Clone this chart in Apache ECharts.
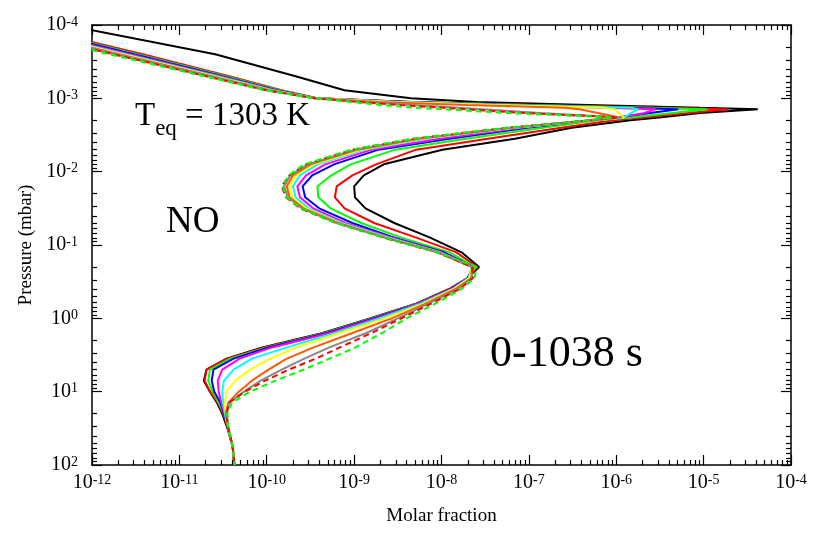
<!DOCTYPE html>
<html>
<head>
<meta charset="utf-8">
<script src="https://cdn.jsdelivr.net/npm/echarts@6.0.0/dist/echarts.min.js"></script>
<style>
    html, body { margin: 0; padding: 0; background: #fff; }
    #main { width: 830px; height: 534px; }
</style>
</head>
<body>
<div id="main"></div>
<script>
    var FONT = "'Liberation Serif', 'Times New Roman', Times, serif";

    // pressure levels, log10(mbar)
    var LOG_P = [-4.0, -3.6, -3.3, -3.11, -3.0, -2.95, -2.91, -2.87, -2.85, -2.8,
        -2.74, -2.7, -2.6, -2.45, -2.3, -2.1, -1.95, -1.8, -1.65, -1.5,
        -1.3, -1.1, -0.9, -0.7, -0.55, -0.4, -0.2, 0.0, 0.2, 0.4,
        0.55, 0.7, 0.85, 1.0, 1.15, 1.3, 1.5, 1.75, 2.0];

    // NO molar fraction, log10, one array per time step
    var X_BLACK = [-12.31, -10.59, -9.67, -9.11, -8.35, -7.60, -6.32, -5.04, -4.38, -5.04,
        -5.51, -5.84, -6.51, -7.16, -7.99, -8.66, -8.89, -9.00, -8.99, -8.87,
        -8.54, -8.13, -7.77, -7.57, -7.70, -7.91, -8.29, -8.82, -9.36, -10.06,
        -10.46, -10.69, -10.72, -10.65, -10.57, -10.51, -10.45, -10.39, -10.37];
    var X_RED = [-12.79, -11.42, -10.43, -9.83, -9.42, -8.33, -6.90, -5.46, -4.72, -5.17,
        -5.69, -6.03, -6.63, -7.47, -8.29, -8.75, -9.02, -9.20, -9.22, -9.11,
        -8.77, -8.29, -7.83, -7.59, -7.70, -7.91, -8.29, -8.81, -9.34, -10.04,
        -10.45, -10.69, -10.71, -10.65, -10.56, -10.50, -10.44, -10.39, -10.37];
    var X_GREEN = [-12.85, -11.48, -10.47, -9.86, -9.43, -8.34, -7.00, -5.66, -4.96, -5.36,
        -5.82, -6.22, -6.84, -7.72, -8.53, -9.04, -9.26, -9.42, -9.41, -9.27,
        -8.92, -8.46, -7.91, -7.61, -7.70, -7.89, -8.28, -8.80, -9.33, -10.01,
        -10.42, -10.65, -10.67, -10.62, -10.55, -10.49, -10.44, -10.39, -10.37];
    var X_BLUE = [-12.90, -11.52, -10.51, -9.89, -9.43, -8.35, -7.14, -5.92, -5.29, -5.61,
        -5.99, -6.29, -7.02, -7.91, -8.72, -9.23, -9.48, -9.59, -9.56, -9.40,
        -9.02, -8.54, -7.97, -7.64, -7.70, -7.89, -8.27, -8.78, -9.31, -9.99,
        -10.38, -10.61, -10.63, -10.60, -10.53, -10.49, -10.44, -10.39, -10.37];
    var X_MAGENTA = [-12.95, -11.57, -10.54, -9.91, -9.44, -8.48, -7.32, -6.15, -5.55, -5.68,
        -5.96, -6.31, -7.10, -8.02, -8.80, -9.33, -9.55, -9.65, -9.62, -9.47,
        -9.10, -8.57, -8.00, -7.64, -7.69, -7.88, -8.26, -8.75, -9.28, -9.95,
        -10.31, -10.51, -10.56, -10.55, -10.52, -10.48, -10.44, -10.39, -10.37];
    var X_CYAN = [-12.99, -11.62, -10.57, -9.93, -9.44, -8.51, -7.23, -5.82, -5.75, -5.83,
        -5.91, -6.23, -7.16, -8.19, -8.88, -9.42, -9.62, -9.70, -9.67, -9.52,
        -9.14, -8.60, -8.02, -7.65, -7.69, -7.87, -8.24, -8.71, -9.22, -9.78,
        -10.17, -10.38, -10.49, -10.51, -10.50, -10.48, -10.44, -10.39, -10.37];
    var X_YELLOW = [-13.04, -11.65, -10.60, -9.96, -9.44, -8.54, -7.41, -6.13, -6.02, -5.97,
        -5.91, -6.24, -7.18, -8.23, -8.92, -9.46, -9.67, -9.74, -9.71, -9.55,
        -9.17, -8.63, -8.03, -7.65, -7.68, -7.86, -8.21, -8.65, -9.17, -9.66,
        -9.96, -10.19, -10.36, -10.46, -10.48, -10.47, -10.44, -10.39, -10.37];
    var X_ORANGE = [-13.08, -11.69, -10.63, -9.97, -9.45, -8.72, -7.72, -6.58, -6.42, -6.21,
        -5.96, -6.26, -7.21, -8.26, -8.96, -9.50, -9.70, -9.77, -9.74, -9.58,
        -9.18, -8.64, -8.04, -7.65, -7.66, -7.84, -8.18, -8.57, -9.02, -9.47,
        -9.77, -9.98, -10.17, -10.32, -10.44, -10.47, -10.44, -10.39, -10.37];
    var X_GRAY = [-13.13, -11.72, -10.65, -9.99, -9.45, -8.86, -8.32, -7.80, -7.53, -6.87,
        -5.93, -6.27, -7.22, -8.28, -8.99, -9.53, -9.73, -9.80, -9.76, -9.60,
        -9.20, -8.65, -8.04, -7.65, -7.65, -7.81, -8.15, -8.50, -8.86, -9.29,
        -9.57, -9.83, -10.07, -10.26, -10.43, -10.46, -10.44, -10.39, -10.37];
    var X_RED_DASH = [-13.19, -11.75, -10.69, -10.01, -9.45, -8.94, -8.49, -7.97, -7.71, -7.06,
        -5.98, -6.29, -7.24, -8.32, -9.02, -9.55, -9.74, -9.83, -9.78, -9.62,
        -9.21, -8.66, -8.05, -7.65, -7.64, -7.79, -8.12, -8.46, -8.80, -9.17,
        -9.44, -9.75, -10.02, -10.25, -10.43, -10.46, -10.44, -10.39, -10.37];
    var X_GREEN_DASH = [-13.23, -11.80, -10.71, -10.02, -9.45, -9.04, -8.70, -8.27, -7.97, -7.24,
        -6.05, -6.30, -7.25, -8.33, -9.03, -9.57, -9.75, -9.82, -9.77, -9.61,
        -9.21, -8.66, -8.05, -7.60, -7.62, -7.77, -8.07, -8.40, -8.68, -8.99,
        -9.28, -9.58, -9.90, -10.19, -10.40, -10.45, -10.44, -10.39, -10.37];

    // decade exponents of the tick labels
    var X_DECADES = [-12, -11, -10, -9, -8, -7, -6, -5, -4];
    var Y_DECADES = [-4, -3, -2, -1, 0, 1, 2];
    var MINOR_MULT = [2, 3, 4, 5, 6, 7, 8, 9];

    var curves = [
        {name: 't0', color: '#000000', dash: 'solid', x: X_BLACK},
        {name: 't1', color: '#ff0000', dash: 'solid', x: X_RED},
        {name: 't2', color: '#00ff00', dash: 'solid', x: X_GREEN},
        {name: 't3', color: '#0000ff', dash: 'solid', x: X_BLUE},
        {name: 't4', color: '#ff00ff', dash: 'solid', x: X_MAGENTA},
        {name: 't5', color: '#00ffff', dash: 'solid', x: X_CYAN},
        {name: 't6', color: '#ffff00', dash: 'solid', x: X_YELLOW},
        {name: 't7', color: '#ff5a00', dash: 'solid', x: X_ORANGE},
        {name: 't8', color: '#888888', dash: 'solid', x: X_GRAY},
        {name: 't9', color: '#ff0000', dash: [6, 4], x: X_RED_DASH},
        {name: 't10', color: '#00ff00', dash: [6, 4], x: X_GREEN_DASH}
    ];

    function pow10(e) {
        return Math.pow(10, e);
    }

    function minorValues(decades) {
        var out = [];
        for (var i = 0; i < decades.length - 1; i++) {
            MINOR_MULT.forEach(function (m) {
                out.push(m * pow10(decades[i]));
            });
        }
        return out;
    }

    function labelFmt(v) {
        var e = Math.round(Math.log10(v));
        return '{b|10}{s|' + e + '}';
    }

    var labelRich = {
        b: {fontFamily: FONT, fontSize: 20, lineHeight: 20, color: '#000', verticalAlign: 'bottom', padding: [4, 0, 0, 0]},
        s: {fontFamily: FONT, fontSize: 14, lineHeight: 14, color: '#000', verticalAlign: 'top'}
    };

    var frame = {show: true, lineStyle: {color: '#000', width: 1.5}};

    function logAxis(dim, pos, minor, withLabels) {
        var decades = dim === 'x' ? X_DECADES : Y_DECADES;
        var ax = {
            type: 'log',
            logBase: 10,
            position: pos,
            min: pow10(decades[0]),
            max: pow10(decades[decades.length - 1]),
            splitNumber: decades.length - 1,
            axisLine: minor ? {show: false} : frame,
            axisTick: {
                show: true,
                inside: true,
                length: minor ? 5 : 10,
                lineStyle: {color: '#000', width: 1.2},
                customValues: minor ? minorValues(decades) : decades.map(pow10)
            },
            axisLabel: {show: false},
            splitLine: {show: false},
            minorTick: {show: false}
        };
        if (dim === 'y') ax.inverse = true;
        if (withLabels) {
            ax.axisLabel = {
                show: true,
                formatter: labelFmt,
                rich: labelRich,
                margin: dim === 'x' ? 8 : 14,
                showMinLabel: true,
                showMaxLabel: true,
                hideOverlap: false,
                customValues: decades.map(pow10)
            };
            ax.nameLocation = 'middle';
            ax.nameTextStyle = {fontFamily: FONT, fontSize: 19, color: '#000'};
            if (dim === 'x') {
                ax.name = 'Molar fraction';
                ax.nameGap = 42;
            } else {
                ax.name = 'Pressure (mbar)';
                ax.nameGap = 46;
                ax.nameRotate = 90;
            }
        }
        return ax;
    }

    var series = curves.map(function (c) {
        return {
            name: c.name,
            type: 'line',
            xAxisIndex: 0,
            yAxisIndex: 0,
            showSymbol: false,
            symbol: 'none',
            clip: true,
            silent: true,
            lineStyle: {color: c.color, width: 2, type: c.dash},
            data: c.x.map(function (v, i) {
                return [pow10(v), pow10(LOG_P[i])];
            })
        };
    });

    var option = {
        animation: false,
        backgroundColor: '#fff',
        grid: {left: 92, right: 39, top: 25, bottom: 69, containLabel: false},
        xAxis: [
            logAxis('x', 'bottom', false, true),
            logAxis('x', 'bottom', true, false),
            logAxis('x', 'top', false, false),
            logAxis('x', 'top', true, false)
        ],
        yAxis: [
            logAxis('y', 'left', false, true),
            logAxis('y', 'left', true, false),
            logAxis('y', 'right', false, false),
            logAxis('y', 'right', true, false)
        ],
        graphic: [
            {
                type: 'text', left: 135, top: 100,
                style: {
                    text: '{a|T}{b|eq}{a| = 1303 K}',
                    fill: '#000',
                    rich: {
                        a: {fontFamily: FONT, fontSize: 33, lineHeight: 33, verticalAlign: 'top', fill: '#000'},
                        b: {fontFamily: FONT, fontSize: 23, lineHeight: 23, verticalAlign: 'top', padding: [17, 0, 0, 0], fill: '#000'}
                    }
                }
            },
            {
                type: 'text', left: 166, top: 204,
                style: {text: 'NO', fontFamily: FONT, fontSize: 37, fill: '#000'}
            },
            {
                type: 'text', left: 490, top: 332,
                style: {text: '0-1038 s', fontFamily: FONT, fontSize: 44, fill: '#000'}
            }
        ],
        series: series
    };

    var chart = echarts.init(document.getElementById('main'), null, {renderer: 'canvas'});
    chart.setOption(option);
</script>
</body>
</html>
